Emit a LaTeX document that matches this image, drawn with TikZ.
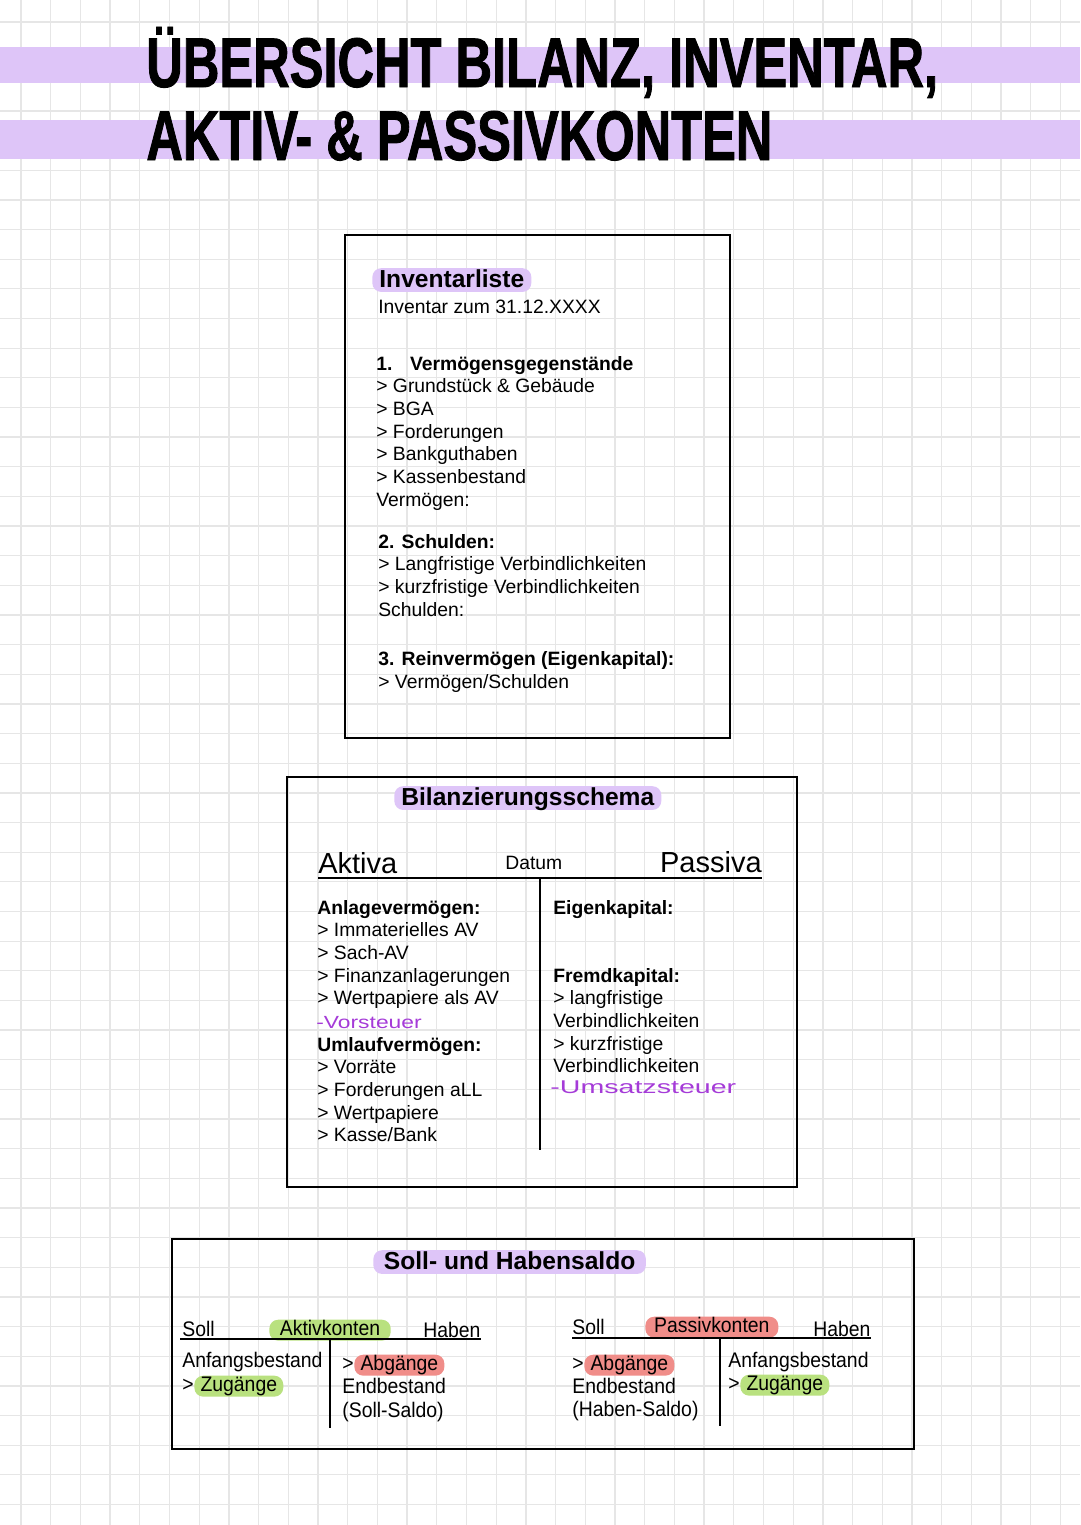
\documentclass[tikz,border=0pt]{standalone}
\usepackage{fontspec}
\setmainfont{Liberation Sans}
\newfontfamily\titlefont{Liberation Sans}[FakeStretch=0.72,FakeBold=1.2]
\newfontfamily\kontofont{Liberation Sans}[FakeStretch=0.92]
\newfontfamily\handfont{Liberation Sans}[FakeStretch=1.3]
\newfontfamily\handwidefont{Liberation Sans}[FakeStretch=1.55]
\usetikzlibrary{positioning}

\definecolor{gridgray}{HTML}{E6E6E6}
\definecolor{markviolet}{HTML}{DEC5F8}
\definecolor{markgreen}{HTML}{B9E17F}
\definecolor{markred}{HTML}{F08D89}
\definecolor{handpurple}{HTML}{A53BD8}

\begin{document}
\begin{tikzpicture}[x=0.02cm, y=-0.02cm,
    gridline/.style={draw=gridgray, line width=0.7pt},
    frame/.style={draw=black, line width=1.4pt},
    tline/.style={draw=black, line width=1.1pt},
    txt/.style={font=\fontsize{11}{13}\selectfont, inner sep=0pt, anchor=base west},
    txtbold/.style={txt, font=\fontsize{11}{13}\selectfont\bfseries},
    head/.style={txt, font=\fontsize{14}{16}\selectfont\bfseries},
    konto/.style={txt, font=\kontofont\fontsize{12}{14}\selectfont},
    hand/.style={txt, text=handpurple},
    hlbox/.style={rounded corners=5pt, inner xsep=3.5pt, inner ysep=1.2pt,
      text height=7.5pt, text depth=2pt, anchor=base west},
    hlhead/.style={hlbox, text height=9.5pt, text depth=1.6pt, inner xsep=4pt},
    titletext/.style={inner sep=0pt, anchor=base west,
      font=\titlefont\bfseries\fontsize{40}{48}\selectfont}]
  \useasboundingbox (0,0) rectangle (1080,1525);
  % Squared paper.
  \fill[white] (0,0) rectangle (1080,1525);
  \foreach \i in {0,...,36}
    \draw[gridline] ({21+29.7*\i},0) -- ({21+29.7*\i},1525);
  \foreach \j in {0,...,51}
    \draw[gridline] (0,{22+29.65*\j}) -- (1080,{22+29.65*\j});
  % Title with its marker bands.
  \fill[markviolet] (0,47) rectangle (1080,83);
  \fill[markviolet] (0,120) rectangle (1080,159);
  \node[titletext] (title1) at (146,87) {ÜBERSICHT BILANZ, INVENTAR,};
  \node[titletext] (title2) at (146,160) {AKTIV- \& PASSIVKONTEN};

  % Inventarliste.
  \draw[frame] (345,235) rectangle (730,738);
  \node[head, hlhead, fill=markviolet] (invhead) at (372,287) {Inventarliste};
  \node[txt] (invdate) at (378,313) {Inventar zum 31.12.XXXX};
  \node[txtbold] (verm0) at (376,370) {1.\hspace{10pt}Vermögensgegenstände};
  \foreach \entry [count=\i] in {{> Grundstück \& Gebäude},{> BGA},{> Forderungen},
      {> Bankguthaben},{> Kassenbestand},{Vermögen:}}
    \node[txt] (verm\i) at (376,{370+22.7*\i}) {\entry};
  \node[txtbold] (schuld0) at (378,548) {2. Schulden:};
  \foreach \entry [count=\i] in {{> Langfristige Verbindlichkeiten},
      {> kurzfristige Verbindlichkeiten},{Schulden:}}
    \node[txt] (schuld\i) at (378,{548+22.7*\i}) {\entry};
  \node[txtbold] (rein0) at (378,665) {3. Reinvermögen (Eigenkapital):};
  \node[txt] (rein1) at (378,688) {> Vermögen/Schulden};

  % Bilanzierungsschema.
  \draw[frame] (287,777) rectangle (797,1187);
  \node[head, hlhead, fill=markviolet] (bilhead) at (394,805) {Bilanzierungsschema};
  \node[txt, font=\fontsize{16.5}{18}\selectfont] (aktiva) at (318,873) {Aktiva};
  \node[txt] (datum) at (505,869) {Datum};
  \node[txt, anchor=base east, font=\fontsize{16.5}{18}\selectfont] (passiva) at (762,872) {Passiva};
  \draw[tline] (318,878) -- (762,878);
  \draw[tline] (540,878) -- (540,1150);
  \node[txtbold] (akt0) at (317,914) {Anlagevermögen:};
  \foreach \entry [count=\i] in {{> Immaterielles AV},{> Sach-AV},
      {> Finanzanlagerungen},{> Wertpapiere als AV}}
    \node[txt] (akt\i) at (317,{914+22.7*\i}) {\entry};
  \node[hand, font=\handfont\fontsize{10}{12}\selectfont] (vorst) at (316,1028) {-Vorsteuer};
  \node[txtbold] (uml0) at (317,1051) {Umlaufvermögen:};
  \foreach \entry [count=\i] in {{> Vorräte},{> Forderungen aLL},
      {> Wertpapiere},{> Kasse/Bank}}
    \node[txt] (uml\i) at (317,{1051+22.7*\i}) {\entry};
  \node[txtbold] (eigen) at (553,914) {Eigenkapital:};
  \node[txtbold] (fremd0) at (553,982) {Fremdkapital:};
  \foreach \entry [count=\i] in {{> langfristige},{Verbindlichkeiten},
      {> kurzfristige},{Verbindlichkeiten}}
    \node[txt] (fremd\i) at (553,{982+22.7*\i}) {\entry};
  \node[hand, font=\handwidefont\fontsize{10.5}{12}\selectfont] (ust) at (550,1093) {-Umsatzsteuer};

  % Soll- und Habensaldo.
  \draw[frame] (172,1239) rectangle (914,1449);
  \node[head, hlhead, fill=markviolet, inner xsep=6pt] (saldohead) at (373,1269) {Soll- und Habensaldo};
  % Aktivkonto.
  \node[konto] (asoll) at (182,1336) {Soll};
  \node[konto, hlbox, fill=markgreen, inner xsep=6pt] (akonto) at (269,1335) {Aktivkonten};
  \node[konto] (ahaben) at (423,1337) {Haben};
  \draw[tline] (180,1339) -- (481,1339);
  \draw[tline] (330,1339) -- (330,1428);
  \node[konto] (aanf) at (182,1367) {Anfangsbestand};
  \node[konto] (agt1) at (182,1391) {> };
  \node[konto, hlbox, fill=markgreen, base right=0pt of agt1] (azu) {Zugänge};
  \node[konto] (agt2) at (342,1370) {>};
  \node[konto, hlbox, fill=markred, base right=0pt of agt2] (aab) {Abgänge};
  \node[konto] (aend) at (342,1393) {Endbestand};
  \node[konto] (asaldo) at (342,1417) {(Soll-Saldo)};
  % Passivkonto.
  \node[konto] (psoll) at (572,1334) {Soll};
  \node[konto, hlbox, fill=markred, inner xsep=5pt] (pkonto) at (645,1332) {Passivkonten};
  \node[konto] (phaben) at (813,1336) {Haben};
  \draw[tline] (572,1338) -- (871,1338);
  \draw[tline] (720,1338) -- (720,1426);
  \node[konto] (pgt1) at (572,1370) {>};
  \node[konto, hlbox, fill=markred, base right=0pt of pgt1] (pab) {Abgänge};
  \node[konto] (pend) at (572,1393) {Endbestand};
  \node[konto] (psaldo) at (572,1416) {(Haben-Saldo)};
  \node[konto] (panf) at (728,1367) {Anfangsbestand};
  \node[konto] (pgt2) at (728,1390) {> };
  \node[konto, hlbox, fill=markgreen, base right=0pt of pgt2] (pzu) {Zugänge};
\end{tikzpicture}
\end{document}
